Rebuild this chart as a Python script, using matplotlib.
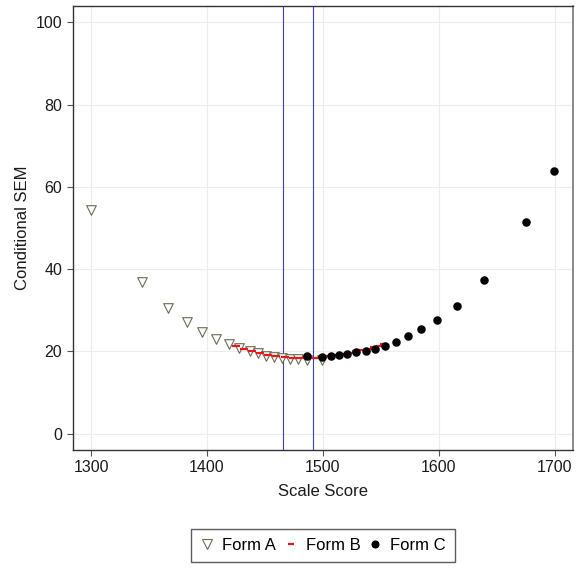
import matplotlib
matplotlib.use("Agg")
import matplotlib.pyplot as plt
from matplotlib.lines import Line2D

plt.rcParams["font.family"] = ["Liberation Sans", "DejaVu Sans"]

# conditional SEM by scale score for the three forms
form_a_score = [1300, 1344, 1366, 1383, 1396, 1408, 1419, 1428, 1437, 1444,
                1451, 1458, 1465, 1472, 1479, 1486, 1499]
form_a_sem = [54.5, 36.8, 30.6, 27.2, 24.7, 23.0, 21.8, 20.8, 20.1, 19.5,
              19.0, 18.7, 18.5, 18.2, 18.1, 18.0, 18.0]

form_b_score = [1425, 1432, 1439, 1446, 1453, 1460, 1467, 1474, 1481, 1488,
                1494, 1499, 1504, 1509, 1514, 1519, 1524, 1529, 1534, 1539,
                1544, 1549, 1553]
form_b_sem = [21.3, 20.6, 20.0, 19.5, 19.1, 18.8, 18.6, 18.5, 18.4, 18.4,
              18.5, 18.6, 18.8, 19.0, 19.2, 19.4, 19.7, 20.0, 20.3, 20.6,
              21.0, 21.4, 21.8]

form_c_score = [1486, 1499.5, 1506.7, 1513.8, 1520.5, 1528.8, 1536.9, 1544.9,
                1553.9, 1563.4, 1573.4, 1584.6, 1598.8, 1615.7, 1639, 1675.6,
                1699.8]
form_c_sem = [18.8, 18.6, 19.0, 19.2, 19.4, 19.9, 20.2, 20.7, 21.4, 22.4,
              23.7, 25.4, 27.6, 31.0, 37.4, 51.4, 63.9]

cut_scores = [1465.5, 1491.5]

x_ticks = [1300, 1400, 1500, 1600, 1700]
y_ticks = [0, 20, 40, 60, 80, 100]

fig = plt.figure(figsize=(5.8, 5.69), dpi=100)
ax = fig.add_axes([0.125, 0.209, 0.863, 0.7805])

ax.scatter(form_a_score, form_a_sem, marker="v", s=48, facecolors="white",
           edgecolors="#6b6b55", linewidths=0.8, zorder=3)
ax.scatter(form_b_score, form_b_sem, marker="_", s=30, color="#e8191b",
           linewidths=1.6, zorder=4)
ax.scatter(form_c_score, form_c_sem, marker="o", s=26, color="black", zorder=5)

for cut in cut_scores:
    ax.axvline(cut, color="#3c3cd0", linewidth=0.8, zorder=2)

ax.set_xlim(1284, 1716)
ax.set_ylim(-4, 104)
ax.set_xticks(x_ticks)
ax.set_yticks(y_ticks)
ax.grid(True, color="#ececec", linewidth=0.8, zorder=0)
ax.set_axisbelow(True)
ax.tick_params(labelsize=11.5, color="#555555", length=4, width=0.8,
               labelcolor="#1a1a1a")
for side in ["left", "bottom", "top"]:
    ax.spines[side].set_color("#333333")
    ax.spines[side].set_linewidth(1.0)
ax.spines["right"].set_color("#777777")
ax.spines["right"].set_linewidth(1.2)

ax.set_xlabel("Scale Score", fontsize=12, color="#1a1a1a", labelpad=6)
ax.set_ylabel("Conditional SEM", fontsize=12, color="#1a1a1a", labelpad=4)

handles = [
    Line2D([], [], linestyle="none", marker="v", markersize=7,
           markerfacecolor="white", markeredgecolor="#6b6b55",
           markeredgewidth=0.8, label="Form A"),
    Line2D([], [], linestyle="none", marker="_", markersize=5,
           markeredgecolor="#e8191b", markeredgewidth=1.6, label="Form B"),
    Line2D([], [], linestyle="none", marker="o", markersize=4.8,
           color="black", label="Form C"),
]
leg = fig.legend(handles=handles, loc="center", bbox_to_anchor=(0.557, 0.0415),
                 ncol=3, fontsize=12, frameon=True, fancybox=False,
                 handlelength=0.8, handletextpad=0.5, columnspacing=0.5,
                 borderpad=0.55, borderaxespad=0)
leg.get_frame().set_edgecolor("#333333")
leg.get_frame().set_linewidth(1.0)

fig.savefig("out.png", dpi=100)
